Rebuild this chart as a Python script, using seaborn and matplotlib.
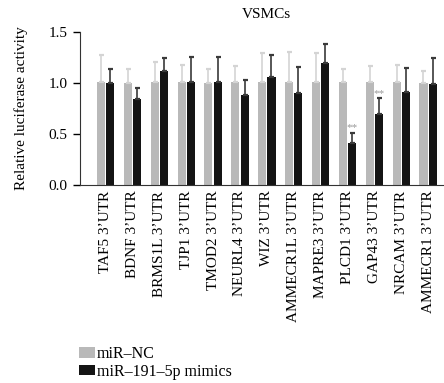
import pandas as pd
import matplotlib
matplotlib.use("Agg")
import matplotlib.pyplot as plt
import seaborn as sns

# values
genes = ["TAF5", "BDNF", "BRMS1L", "TJP1", "TMOD2", "NEURL4", "WIZ",
         "AMMECR1L", "MAPRE3", "PLCD1", "GAP43", "NRCAM", "AMMECR1"]
tick_labels = [g + " 3\u2019UTR" for g in genes]
groups = ["miR\u2013NC", "miR\u2013191\u20135p mimics"]

nc_mean = [1.01, 1.00, 1.01, 1.01, 1.00, 1.01, 1.01, 1.01, 1.01, 1.01, 1.01, 1.01, 1.00]
nc_top = [1.275, 1.14, 1.21, 1.18, 1.14, 1.17, 1.30, 1.31, 1.30, 1.14, 1.17, 1.18, 1.12]
mim_mean = [1.00, 0.84, 1.12, 1.01, 1.01, 0.88, 1.06, 0.90, 1.20, 0.41, 0.70, 0.91, 0.99]
mim_top = [1.14, 0.95, 1.245, 1.26, 1.26, 1.03, 1.28, 1.16, 1.38, 0.51, 0.85, 1.15, 1.25]
significant = ["PLCD1", "GAP43"]

bar_colors = ["#b9b9b9", "#141414"]
err_colors = ["#d4d4d4", "#3a3a3a"]

plt.rcParams["font.family"] = ["Liberation Serif", "DejaVu Serif"]
plt.rcParams["axes.edgecolor"] = "#333333"

df = pd.DataFrame({
    "gene": tick_labels * 2,
    "value": nc_mean + mim_mean,
    "group": [groups[0]] * len(genes) + [groups[1]] * len(genes),
})

fig = plt.figure(figsize=(4.44, 3.83), dpi=100)
ax = fig.add_axes([0.18, 0.517, 0.842, 0.399])

sns.barplot(data=df, x="gene", y="value", hue="group", hue_order=groups,
            palette=bar_colors, width=0.69, gap=0.13, errorbar=None,
            saturation=1, ax=ax)

# upper-only error bars, positioned from the seaborn bars
for cont, means, tops, ec in zip(ax.containers, [nc_mean, mim_mean],
                                 [nc_top, mim_top], err_colors):
    xs = [b.get_x() + b.get_width() / 2 for b in cont]
    up = [t - m for t, m in zip(tops, means)]
    ax.errorbar(xs, means, yerr=[[0] * len(up), up], fmt="none",
                ecolor=ec, elinewidth=1.2, capsize=1.8, capthick=1.6, zorder=1)
    if ec == err_colors[1]:
        for g, x, t in zip(genes, xs, tops):
            if g in significant:
                ax.text(x, t + 0.005, "**", ha="center", va="bottom",
                        fontsize=8, color="#999999")

handles, labels = ax.get_legend_handles_labels()
ax.get_legend().remove()
fig.legend(handles, labels, loc="upper left", bbox_to_anchor=(0.163, 0.113),
           frameon=False, fontsize=11.5, handlelength=1.0, handleheight=0.6,
           handletextpad=0.15, labelspacing=0.1, borderaxespad=0)

ax.set_ylim(0, 1.5)
ax.set_yticks([0, 0.5, 1.0, 1.5])
ax.set_yticklabels(["0.0", "0.5", "1.0", "1.5"])
ax.set_xlabel("")
ax.set_ylabel("Relative luciferase activity", fontsize=11, labelpad=15)
ax.set_title("VSMCs", fontsize=11, pad=10)
ax.tick_params(axis="y", labelsize=11, length=5, width=1, pad=4)
ax.tick_params(axis="x", labelsize=11, length=0, pad=4, labelrotation=90)
sns.despine(ax=ax)

fig.savefig("out.png", dpi=100)
